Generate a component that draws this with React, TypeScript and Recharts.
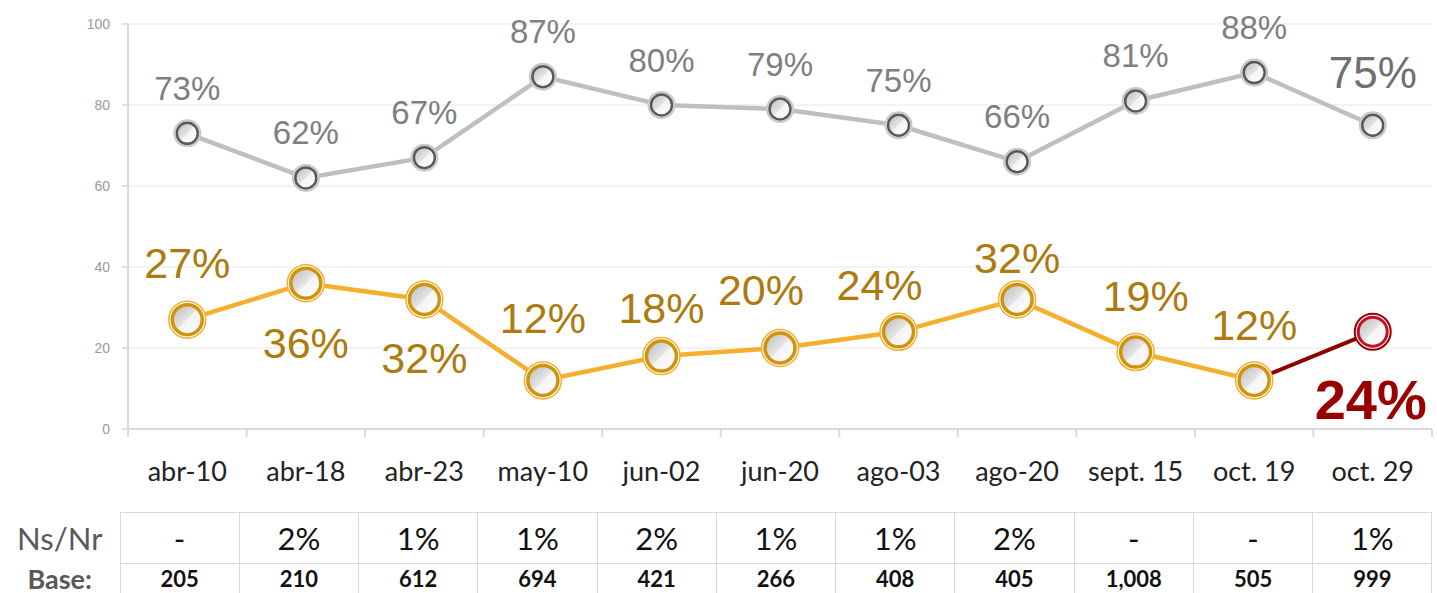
import { LineChart, Line, XAxis, YAxis, CartesianGrid } from 'recharts';

const CATEGORIES = ['abr-10', 'abr-18', 'abr-23', 'may-10', 'jun-02', 'jun-20', 'ago-03', 'ago-20', 'sept. 15', 'oct. 19', 'oct. 29'];
const GRAY_VALUES = [73, 62, 67, 87, 80, 79, 75, 66, 81, 88, 75];
const ORANGE_VALUES = [27, 36, 32, 12, 18, 20, 24, 32, 19, 12, 24];
const NS_NR = ['-', '2%', '1%', '1%', '2%', '1%', '1%', '2%', '-', '-', '1%'];
const BASE = ['205', '210', '612', '694', '421', '266', '408', '405', '1,008', '505', '999'];
const Y_TICKS = [0, 20, 40, 60, 80, 100];

// label placement relative to the point (layout only)
const ORANGE_LABEL_OFFSETS: [number, number][] = [
  [0, -57], [0, 60], [0, 59], [0, -62], [0, -48], [-19, -58],
  [-19, -47], [0, -41], [10, -56], [0, -55], [-2, 68],
];

const W = 1437;
const H = 593;
const PLOT_LEFT = 128;
const PLOT_RIGHT = 1432;
const HALF_BAND = (PLOT_RIGHT - PLOT_LEFT) / CATEGORIES.length / 2;
const LAST = CATEGORIES.length - 1;

const GRAY_LINE = '#BFBFBF';
const GRAY_TEXT = '#7F7F7F';
const ORANGE = '#F5AF2D';
const ORANGE_TEXT = '#AD7A0E';
const RED = '#8B0000';
const AXIS = '#D9D9D9';
const FONT = 'Lato, "Open Sans", sans-serif';
const LABEL_FONT = '"Liberation Sans", Arial, sans-serif';

const data = CATEGORIES.map((cat, i) => ({
  cat,
  gray: GRAY_VALUES[i],
  orange: i < LAST ? ORANGE_VALUES[i] : null,
  red: i >= LAST - 1 ? ORANGE_VALUES[i] : null,
}));

function XTick(props: any) {
  const { x, y, payload, index } = props;
  return (
    <g>
      <line x1={x - HALF_BAND} x2={x - HALF_BAND} y1={y} y2={y + 8} stroke={AXIS} strokeWidth={2} />
      {index === LAST && (
        <line x1={x + HALF_BAND} x2={x + HALF_BAND} y1={y} y2={y + 8} stroke={AXIS} strokeWidth={2} />
      )}
      <text x={x} y={y + 41} textAnchor="middle" dominantBaseline="central" fill="#222" fontSize={27} fontFamily={FONT}>
        {payload.value}
      </text>
    </g>
  );
}

function GrayDot(props: any) {
  const { cx, cy, index } = props;
  if (cx == null || cy == null) return <g key={`gd-${index}`} />;
  return (
    <g key={`gd-${index}`}>
      <circle cx={cx} cy={cy} r={13} fill="#fff" stroke="#C8C8C8" strokeWidth={2} />
      <circle cx={cx} cy={cy} r={10.5} fill="url(#markerFill)" stroke="#595959" strokeWidth={2.5} />
    </g>
  );
}

function OrangeDot(props: any) {
  const { cx, cy, index } = props;
  if (cx == null || cy == null) return <g key={`od-${index}`} />;
  return (
    <g key={`od-${index}`}>
      <circle cx={cx} cy={cy} r={18.5} fill="#fff" stroke={ORANGE} strokeWidth={1.5} />
      <circle cx={cx} cy={cy} r={15} fill="url(#markerFill)" stroke="#CF940E" strokeWidth={3.5} />
    </g>
  );
}

function RedDot(props: any) {
  const { cx, cy, index } = props;
  if (cx == null || cy == null || index !== LAST) return <g key={`rd-${index}`} />;
  return (
    <g key={`rd-${index}`}>
      <circle cx={cx} cy={cy} r={18} fill="#fff" stroke="#9A0000" strokeWidth={2} />
      <circle cx={cx} cy={cy} r={14.5} fill="url(#markerFill)" stroke="#C0142C" strokeWidth={3} />
    </g>
  );
}

function GrayLabel(props: any) {
  const { x, y, value, index } = props;
  if (value == null) return <g />;
  const last = index === LAST;
  return (
    <text
      x={x}
      y={y + (last ? -53 : -45)}
      textAnchor="middle"
      dominantBaseline="central"
      fill={last ? '#707070' : GRAY_TEXT}
      fontSize={last ? 44 : 33}
      fontFamily={LABEL_FONT}
    >
      {`${value}%`}
    </text>
  );
}

function OrangeLabel(props: any) {
  const { x, y, value, index } = props;
  if (value == null || index === LAST) return <g />;
  const [dx, dy] = ORANGE_LABEL_OFFSETS[index];
  return (
    <text x={x + dx} y={y + dy} textAnchor="middle" dominantBaseline="central" fill={ORANGE_TEXT} fontSize={43} fontFamily={LABEL_FONT}>
      {`${value}%`}
    </text>
  );
}

function RedLabel(props: any) {
  const { x, y, value, index } = props;
  if (value == null || index !== LAST) return <g />;
  const [dx, dy] = ORANGE_LABEL_OFFSETS[index];
  return (
    <text x={x + dx} y={y + dy} textAnchor="middle" dominantBaseline="central" fill="#990000" fontSize={56} fontWeight="bold" fontFamily={LABEL_FONT}>
      {`${value}%`}
    </text>
  );
}

const cell: React.CSSProperties = {
  border: `1px solid ${AXIS}`,
  textAlign: 'center',
  padding: 0,
};

export default function App() {
  const colW = (PLOT_RIGHT - 120) / CATEGORIES.length;
  return (
    <div style={{ position: 'absolute', left: 0, top: 0, width: W, height: H, background: '#fff', overflow: 'hidden' }}>
      <LineChart width={W} height={505} data={data} margin={{ top: 24, right: W - PLOT_RIGHT, left: 0, bottom: 0 }}>
        <defs>
          <linearGradient id="markerFill" x1="0" y1="0" x2="1" y2="1">
            <stop offset="0" stopColor="#B8B8B8" />
            <stop offset="0.5" stopColor="#E6E6E6" />
            <stop offset="0.5" stopColor="#F4F4F4" />
            <stop offset="1" stopColor="#FFFFFF" />
          </linearGradient>
        </defs>
        <CartesianGrid vertical={false} stroke="#EFEFEF" strokeWidth={1.5} />
        <XAxis
          dataKey="cat"
          height={76}
          interval={0}
          padding={{ left: HALF_BAND, right: HALF_BAND }}
          tickSize={0}
          tickMargin={0}
          tickLine={false}
          axisLine={{ stroke: AXIS, strokeWidth: 2 }}
          tick={<XTick />}
        />
        <YAxis
          width={PLOT_LEFT}
          domain={[0, 100]}
          ticks={Y_TICKS}
          interval={0}
          tickSize={6}
          tickMargin={12}
          axisLine={{ stroke: AXIS, strokeWidth: 2 }}
          tickLine={{ stroke: AXIS, strokeWidth: 1.5 }}
          tick={{ fill: '#9A9A9A', fontSize: 14, fontFamily: LABEL_FONT }}
        />
        <Line
          dataKey="gray"
          stroke={GRAY_LINE}
          strokeWidth={4.5}
          dot={GrayDot}
          activeDot={false}
          label={GrayLabel}
          isAnimationActive={false}
        />
        <Line
          dataKey="red"
          stroke={RED}
          strokeWidth={4}
          dot={RedDot}
          activeDot={false}
          label={RedLabel}
          connectNulls={false}
          isAnimationActive={false}
        />
        <Line
          dataKey="orange"
          stroke={ORANGE}
          strokeWidth={4.5}
          dot={OrangeDot}
          activeDot={false}
          label={OrangeLabel}
          isAnimationActive={false}
        />
      </LineChart>
      <table
        style={{
          position: 'absolute',
          left: 0,
          top: 512,
          width: PLOT_RIGHT,
          borderCollapse: 'collapse',
          tableLayout: 'fixed',
          fontFamily: FONT,
        }}
      >
        <colgroup>
          <col style={{ width: 120 }} />
          {CATEGORIES.map((c) => (
            <col key={c} style={{ width: colW }} />
          ))}
        </colgroup>
        <tbody>
          <tr style={{ height: 51 }}>
            <td style={{ textAlign: 'center', padding: 0, fontSize: 31, color: '#595959' }}>Ns/Nr</td>
            {NS_NR.map((v, i) => (
              <td key={i} style={{ ...cell, fontSize: 31, color: '#111' }}>{v}</td>
            ))}
          </tr>
          <tr style={{ height: 30 }}>
            <td style={{ textAlign: 'center', padding: 0, fontSize: 27, fontWeight: 'bold', color: '#595959', lineHeight: '28px' }}>Base:</td>
            {BASE.map((v, i) => (
              <td key={i} style={{ ...cell, fontSize: 22, fontWeight: 'bold', color: '#111', lineHeight: '28px' }}>{v}</td>
            ))}
          </tr>
        </tbody>
      </table>
    </div>
  );
}
